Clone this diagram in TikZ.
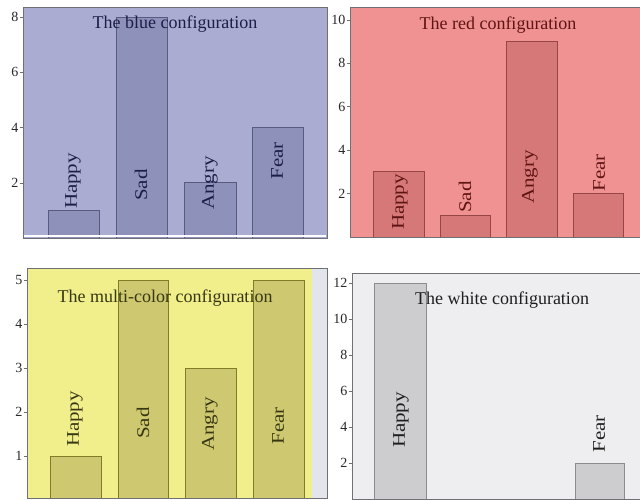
\documentclass[tikz,border=0pt]{standalone}
\usepackage{fontspec}
\setmainfont{Liberation Serif}
\definecolor{bluebg}{RGB}{170,173,209}
\definecolor{bluebar}{RGB}{142,145,186}
\definecolor{blueline}{RGB}{88,90,128}
\definecolor{bluetxt}{RGB}{28,30,72}
\definecolor{redbg}{RGB}{240,146,146}
\definecolor{redbar}{RGB}{214,120,120}
\definecolor{redline}{RGB}{150,70,70}
\definecolor{redtxt}{RGB}{95,20,20}
\definecolor{yelbg}{RGB}{241,238,140}
\definecolor{yelbar}{RGB}{206,201,112}
\definecolor{yelline}{RGB}{128,124,40}
\definecolor{yeltxt}{RGB}{55,55,20}
\definecolor{yelside}{RGB}{226,229,236}
\definecolor{whbg}{RGB}{238,238,240}
\definecolor{whbar}{RGB}{205,205,207}
\definecolor{whline}{RGB}{140,140,142}
\definecolor{whtxt}{RGB}{30,30,30}
\definecolor{framec}{RGB}{110,112,118}
\definecolor{tickc}{RGB}{40,40,40}
\begin{document}
\begin{tikzpicture}[x=1pt,y=-1pt,
  ttl/.style={font=\fontsize{18}{18}\selectfont, inner sep=0pt},
  lab/.style={rotate=90, yscale=0.85, font=\fontsize{21}{21}\selectfont, inner sep=0pt},
  ticklab/.style={font=\fontsize{14}{14}\selectfont, anchor=east, inner sep=1pt, text=tickc},
  tickmark/.style={draw=framec, line width=0.6pt},
  panel/.style={draw=framec, line width=1pt},
  bar/.style={line width=0.8pt}]
\useasboundingbox (0,0) rectangle (640,500);
\fill[white] (0,0) rectangle (640,500);

% ---------- Blue panel ----------
\fill[bluebg] (23,8) rectangle (327,238);
\filldraw[bar, fill=bluebar, draw=blueline] (48,238) rectangle (99,210.4);
\filldraw[bar, fill=bluebar, draw=blueline] (116,238) rectangle (167,17.2);
\filldraw[bar, fill=bluebar, draw=blueline] (184,238) rectangle (236,182.8);
\filldraw[bar, fill=bluebar, draw=blueline] (252,238) rectangle (303,127.6);
\draw[white, line width=1.5pt] (24,236) -- (326,236);
\draw[panel] (23,8) rectangle (327,238);
\foreach \v/\y in {2/182.8,4/127.6,6/72.4,8/17.2}{
  \draw[tickmark] (19.5,\y) -- (23,\y);
  \node[ticklab] (bt\v) at (19.5,\y) {\v};
}
\node[ttl, text=bluetxt] (btitle) at (175,24) {The blue configuration};
\node[lab, text=bluetxt] (bhappy) at (73,181) {Happy};
\node[lab, text=bluetxt] (bsad) at (141,185) {Sad};
\node[lab, text=bluetxt] (bangry) at (210,183) {Angry};
\node[lab, text=bluetxt] (bfear) at (277,161) {Fear};

% ---------- Red panel ----------
\fill[redbg] (350,8) rectangle (641,237);
\filldraw[bar, fill=redbar, draw=redline] (373,237) rectangle (424,171.9);
\filldraw[bar, fill=redbar, draw=redline] (440,237) rectangle (490,215.3);
\filldraw[bar, fill=redbar, draw=redline] (506,237) rectangle (557,41.7);
\filldraw[bar, fill=redbar, draw=redline] (573,237) rectangle (623,193.6);
\draw[panel] (350,8) rectangle (641,237);
\foreach \v/\y in {2/193.6,4/150.2,6/106.8,8/63.4,10/20}{
  \draw[tickmark] (346.5,\y) -- (350,\y);
  \node[ticklab] (rt\v) at (346.5,\y) {\v};
}
\node[ttl, text=redtxt] (rtitle) at (498,25) {The red configuration};
\node[lab, text=redtxt] (rhappy) at (400,202) {Happy};
\node[lab, text=redtxt] (rsad) at (465,197) {Sad};
\node[lab, text=redtxt] (rangry) at (530,177) {Angry};
\node[lab, text=redtxt] (rfear) at (599,173) {Fear};

% ---------- Yellow (multi-color) panel ----------
\fill[yelbg] (27,268) rectangle (312,498);
\fill[yelside] (312,268) rectangle (327,498);
\filldraw[bar, fill=yelbar, draw=yelline] (50,498) rectangle (101,456);
\filldraw[bar, fill=yelbar, draw=yelline] (118,498) rectangle (168,280);
\filldraw[bar, fill=yelbar, draw=yelline] (185,498) rectangle (236,368);
\filldraw[bar, fill=yelbar, draw=yelline] (253,498) rectangle (304,280);
\draw[panel] (27,268) rectangle (327,498);
\foreach \v/\y in {1/456,2/412,3/368,4/324,5/280}{
  \draw[tickmark] (23.5,\y) -- (27,\y);
  \node[ticklab] (yt\v) at (23.5,\y) {\v};
}
\node[ttl, text=yeltxt] (ytitle) at (165,298) {The multi-color configuration};
\node[lab, text=yeltxt] (yhappy) at (75,419) {Happy};
\node[lab, text=yeltxt] (ysad) at (143,423) {Sad};
\node[lab, text=yeltxt] (yangry) at (210,424) {Angry};
\node[lab, text=yeltxt] (yfear) at (278,426) {Fear};

% ---------- White panel ----------
\fill[whbg] (352,273) rectangle (641,499);
\filldraw[bar, fill=whbar, draw=whline] (374,499) rectangle (426,283);
\filldraw[bar, fill=whbar, draw=whline] (575,499) rectangle (624,463);
\draw[panel] (352,273) rectangle (641,499);
\foreach \v/\y in {2/463,4/427,6/391,8/355,10/319,12/283}{
  \draw[tickmark] (348.5,\y) -- (352,\y);
  \node[ticklab] (wt\v) at (348.5,\y) {\v};
}
\node[ttl, text=whtxt] (wtitle) at (502,300) {The white configuration};
\node[lab, text=whtxt] (whappy) at (401,420) {Happy};
\node[lab, text=whtxt] (wfear) at (599,434) {Fear};
\end{tikzpicture}
\end{document}
